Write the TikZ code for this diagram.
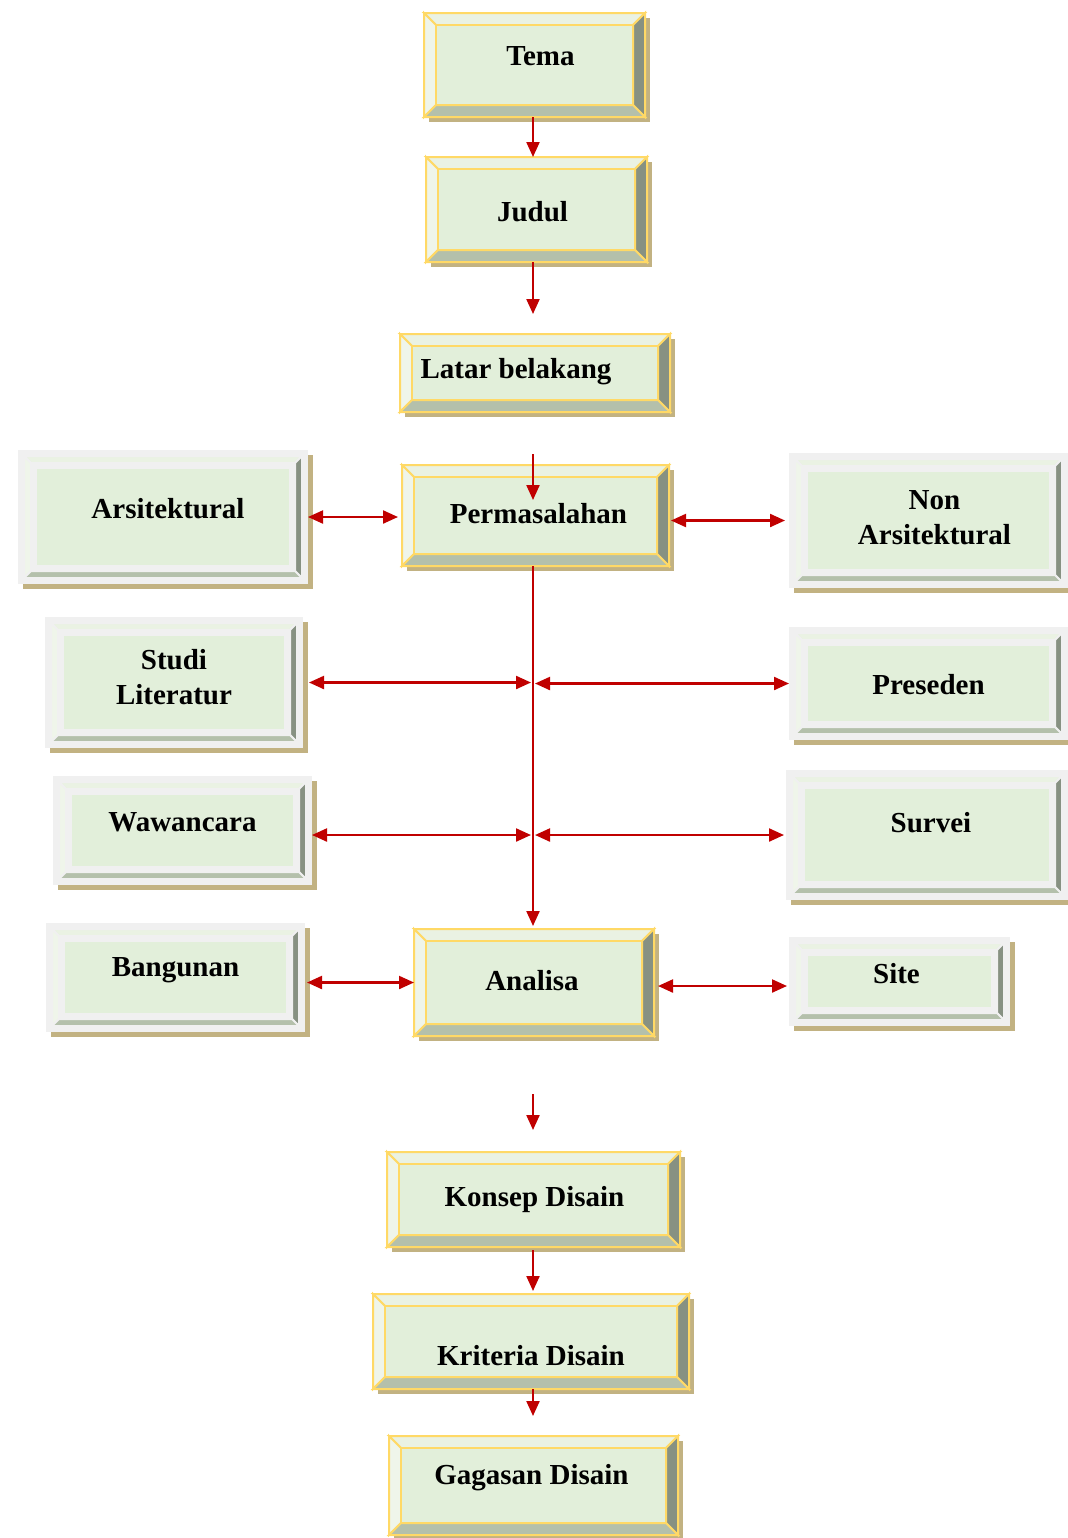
\documentclass[tikz,border=0pt]{standalone}
\usepackage{fontspec}
\setmainfont{Liberation Serif}
\usepackage{xcolor}
\usepackage{tikz}
\usetikzlibrary{arrows.meta}

\definecolor{isi}{HTML}{E2EFDA}
\definecolor{bvtop}{HTML}{EAF2E3}
\definecolor{bvleft}{HTML}{EFF5EA}
\definecolor{bvright}{HTML}{879182}
\definecolor{bvbot}{HTML}{B4C0AB}
\definecolor{kuning}{HTML}{FFD966}
\definecolor{bayang}{HTML}{C2B282}
\definecolor{abu}{HTML}{F0F0F0}
\definecolor{merah}{HTML}{C00000}

\tikzset{
  garis kuning/.style={draw=kuning, line width=1pt},
  garis abu/.style={draw=abu, line width=1pt},
  bingkai/.style={rectangle, inner sep=0pt, outer sep=0pt},
  tulisan/.style={font=\fontsize{14.5}{17.5}\selectfont\bfseries, align=center, inner sep=0pt},
  panah/.style={draw=merah, line width=1.1pt, -{Triangle[length=7.5pt,width=6.5pt]}},
  panah2/.style={draw=merah, line width=1.1pt, {Triangle[length=7.5pt,width=6.5pt]}-{Triangle[length=7.5pt,width=6.5pt]}}
}

% bevel frame: x1 y1 x2 y2 width style
\newcommand{\bevel}[6]{%
  \filldraw[#6, fill=bvtop] (#1,#2) -- (#3,#2) -- (#3-#5,#2+#5) -- (#1+#5,#2+#5) -- cycle;
  \filldraw[#6, fill=bvleft] (#1,#2) -- (#1+#5,#2+#5) -- (#1+#5,#4-#5) -- (#1,#4) -- cycle;
  \filldraw[#6, fill=bvright] (#3,#2) -- (#3,#4) -- (#3-#5,#4-#5) -- (#3-#5,#2+#5) -- cycle;
  \filldraw[#6, fill=bvbot] (#1,#4) -- (#3,#4) -- (#3-#5,#4-#5) -- (#1+#5,#4-#5) -- cycle;
}

% main box: name x1 y1 x2 y2 textshift text
\newcommand{\kotakutama}[7]{%
  \fill[bayang] (#2+5,#3+5) rectangle (#4+5,#5+5);
  \bevel{#2}{#3}{#4}{#5}{12}{garis kuning}
  \filldraw[garis kuning, fill=isi] (#2+12,#3+12) rectangle (#4-12,#5-12);
  \node[bingkai, minimum width={(#4-#2)*0.5pt}, minimum height={(#5-#3)*0.5pt}] (#1) at ({(#2+#4)/2},{(#3+#5)/2}) {};
  \node[tulisan] (#1-t) at ([shift={(#6)}]#1.center) {#7};
}

% side box: name x1 y1 x2 y2 textshift text
\newcommand{\kotaksamping}[7]{%
  \fill[bayang] (#2+5,#3+5) rectangle (#4+5,#5+5);
  \fill[abu] (#2,#3) rectangle (#4,#5);
  \bevel{#2+6}{#3+6}{#4-6}{#5-6}{7}{garis abu}
  \fill[abu] (#2+13,#3+13) rectangle (#4-13,#5-13);
  \fill[isi] (#2+19,#3+19) rectangle (#4-19,#5-19);
  \node[bingkai, minimum width={(#4-#2)*0.5pt}, minimum height={(#5-#3)*0.5pt}] (#1) at ({(#2+#4)/2},{(#3+#5)/2}) {};
  \node[tulisan] (#1-t) at ([shift={(#6)}]#1.center) {#7};
}

\begin{document}
\begin{tikzpicture}[x=0.5pt, y=-0.5pt]
  \useasboundingbox (0,0) rectangle (1068,1538);
  \coordinate (poros) at (533,0);

  % center column
  \kotakutama{tema}{424}{13}{645}{117}{6,-9}{Tema}
  \kotakutama{judul}{426}{157}{647}{262}{-4,2}{Judul}
  \kotakutama{latar}{400}{334}{670}{412}{-19,-1}{Latar belakang}
  \kotakutama{perm}{402}{465}{669}{566}{3,-2}{Permasalahan}
  \kotakutama{analisa}{414}{929}{654}{1036}{-2,-2}{Analisa}
  \kotakutama{konsep}{387}{1152}{680}{1247}{1,0}{Konsep Disain}
  \kotakutama{kriteria}{373}{1294}{689}{1389}{0,14}{Kriteria Disain}
  \kotakutama{gagasan}{389}{1436}{678}{1535}{-2,-8}{Gagasan Disain}

  % left column
  \kotaksamping{arsi}{18}{450}{308}{584}{5,-8}{Arsitektural}
  \kotaksamping{studi}{45}{617}{303}{748}{0,-5}{Studi\\Literatur}
  \kotaksamping{wawancara}{53}{776}{312}{885}{0,-8}{Wawancara}
  \kotaksamping{bangunan}{46}{923}{305}{1032}{0,-7}{Bangunan}

  % right column
  \kotaksamping{nonarsi}{789}{453}{1068}{588}{6,-3}{Non\\Arsitektural}
  \kotaksamping{preseden}{789}{627}{1068}{740}{0,1}{Preseden}
  \kotaksamping{survei}{786}{770}{1068}{900}{4,-12}{Survei}
  \kotaksamping{site}{789}{937}{1010}{1026}{-3,-8}{Site}

  % arrows
  \draw[panah] (tema.south -| poros) -- (judul.north -| poros);
  \draw[panah, shorten >=10pt] (judul.south -| poros) -- (latar.north -| poros);
  \draw[panah] ([yshift=-21pt]latar.south -| poros) -- ([yshift=-17.5pt]perm.north -| poros);
  \draw[panah2, shorten >=2pt] (arsi.east) -- (arsi.east -| perm.west);
  \draw[panah2, shorten <=1pt, shorten >=2pt] (perm.east |- nonarsi.west) -- (nonarsi.west);
  \draw[panah, shorten >=1.5pt] (perm.south -| poros) -- (analisa.north -| poros);
  \draw[panah2, shorten <=3pt, shorten >=1pt] (studi.east) -- (studi.east -| poros);
  \draw[panah2, shorten <=1pt] (preseden.west -| poros) -- (preseden.west);
  \draw[panah2, shorten >=1pt] (wawancara.east |- survei.west) -- (survei.west -| poros);
  \draw[panah2, shorten <=1pt, shorten >=1pt] (survei.west -| poros) -- (survei.west);
  \draw[panah2, shorten <=1pt] (bangunan.east |- analisa.west) -- (analisa.west);
  \draw[panah2, shorten <=2pt, shorten >=1pt] ([yshift=-1.75pt]analisa.east) -- ([yshift=-1.75pt]analisa.east -| site.west);
  \draw[panah, shorten <=29pt, shorten >=11pt] (analisa.south -| poros) -- (konsep.north -| poros);
  \draw[panah, shorten <=1.5pt, shorten >=1.5pt] (konsep.south -| poros) -- (kriteria.north -| poros);
  \draw[panah, shorten >=10pt] (kriteria.south -| poros) -- (gagasan.north -| poros);
\end{tikzpicture}
\end{document}
